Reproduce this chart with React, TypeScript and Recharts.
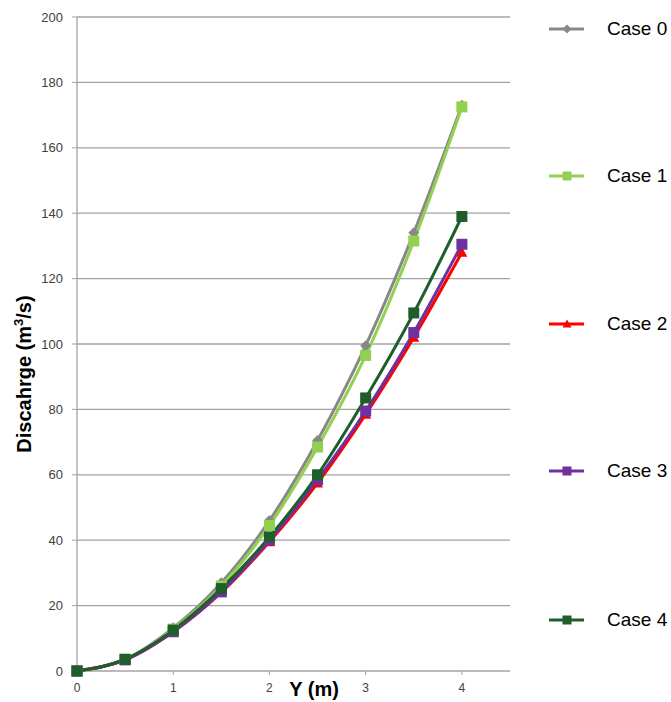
import React from 'react';
import { LineChart, Line, XAxis, YAxis, CartesianGrid } from 'recharts';

const depths = [0, 0.5, 1, 1.5, 2, 2.5, 3, 3.5, 4];
const case0 = [0, 3.6, 13.2, 27, 46, 70.5, 99.5, 134, 173];
const case1 = [0, 3.5, 12.8, 26, 44.5, 68.5, 96.5, 131.5, 172.5];
const case2 = [0, 3.4, 12, 24, 39.5, 57.5, 78.5, 102, 128];
const case3 = [0, 3.4, 12, 24.2, 40, 58.5, 79.5, 103.5, 130.5];
const case4 = [0, 3.6, 12.5, 25.2, 41, 60, 83.5, 109.5, 139];
const yTicks = [0, 20, 40, 60, 80, 100, 120, 140, 160, 180, 200];
const xTicks = [0, 1, 2, 3, 4];

const series = [
  { key: 'c0', name: 'Case 0', values: case0, color: '#888888', shape: 'diamond' },
  { key: 'c1', name: 'Case 1', values: case1, color: '#92D050', shape: 'square' },
  { key: 'c2', name: 'Case 2', values: case2, color: '#FF0000', shape: 'triangle' },
  { key: 'c3', name: 'Case 3', values: case3, color: '#7030A0', shape: 'square' },
  { key: 'c4', name: 'Case 4', values: case4, color: '#1E5E2A', shape: 'square' },
];

const data = depths.map((d, i) => {
  const row: any = { y: d };
  series.forEach((s) => (row[s.key] = s.values[i]));
  return row;
});

const FONT = '"Liberation Sans", Arial, sans-serif';

function Marker({ cx, cy, shape, color, size = 10 }: any) {
  const h = size / 2;
  if (shape === 'diamond') {
    return <polygon points={`${cx},${cy - h} ${cx + h},${cy} ${cx},${cy + h} ${cx - h},${cy}`} fill={color} />;
  }
  if (shape === 'triangle') {
    return <polygon points={`${cx},${cy - h} ${cx + h},${cy + h * 0.8} ${cx - h},${cy + h * 0.8}`} fill={color} />;
  }
  return <rect x={cx - h} y={cy - h} width={size} height={size} fill={color} />;
}

const makeDot = (shape: string, color: string) => (props: any) => {
  const { cx, cy, index } = props;
  if (cx == null || cy == null) return <g key={index} />;
  return <g key={index}><Marker cx={cx} cy={cy} shape={shape} color={color} size={11} /></g>;
};

const legendTops = [29, 176, 324, 471, 620];

export default function App() {
  return (
    <div style={{ position: 'absolute', left: 0, top: 0, width: 671, height: 702, background: '#fff', fontFamily: FONT }}>
      <LineChart width={671} height={702} data={data} margin={{ top: 17, right: 161, left: 17, bottom: 0 }}>
        <CartesianGrid vertical={false} stroke="#a3a3a3" strokeWidth={1.3} />
        <XAxis
          dataKey="y"
          type="number"
          domain={[0, 4.5]}
          ticks={xTicks}
          height={31}
          axisLine={false}
          tickLine={{ stroke: '#a3a3a3' }}
          tickSize={4}
          tickMargin={8}
          tick={{ fill: '#404040', fontSize: 12, fontFamily: FONT }}
        />
        <YAxis
          type="number"
          domain={[0, 200]}
          ticks={yTicks}
          width={60}
          axisLine={{ stroke: '#a3a3a3', strokeWidth: 1.3 }}
          tickLine={{ stroke: '#a3a3a3' }}
          tickSize={5}
          tickMargin={9}
          tick={{ fill: '#404040', fontSize: 13, fontFamily: FONT }}
        />
        {series.map((s) => (
          <Line
            key={s.key}
            dataKey={s.key}
            name={s.name}
            type="monotone"
            stroke={s.color}
            strokeWidth={3}
            dot={makeDot(s.shape, s.color)}
            isAnimationActive={false}
          />
        ))}
      </LineChart>
      <div
        style={{
          position: 'absolute',
          left: 24,
          top: 374,
          transform: 'translate(-50%, -50%) rotate(-90deg)',
          fontWeight: 'bold',
          fontSize: 20,
          whiteSpace: 'nowrap',
          color: '#000',
        }}
      >
        Discahrge (m<sup style={{ fontSize: 13, verticalAlign: 'super', lineHeight: 0 }}>3</sup>/s)
      </div>
      <div
        style={{
          position: 'absolute',
          left: 314,
          top: 689,
          transform: 'translate(-50%, -50%)',
          fontWeight: 'bold',
          fontSize: 20,
          whiteSpace: 'nowrap',
          color: '#000',
        }}
      >
        Y (m)
      </div>
      {series.map((s, i) => (
        <div key={s.key} style={{ position: 'absolute', left: 545, top: legendTops[i] - 14, height: 28, display: 'flex', alignItems: 'center' }}>
          <svg width={44} height={28}>
            <line x1={4} y1={14} x2={39} y2={14} stroke={s.color} strokeWidth={3} />
            <Marker cx={22} cy={14} shape={s.shape} color={s.color} size={9} />
          </svg>
          <span style={{ marginLeft: 18, fontSize: 19, color: '#000', whiteSpace: 'nowrap' }}>{s.name}</span>
        </div>
      ))}
    </div>
  );
}
